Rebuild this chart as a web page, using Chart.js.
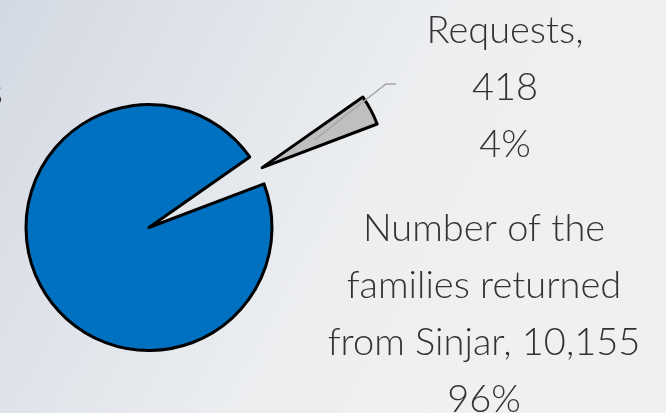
<!DOCTYPE html>
<html>
<head>
<meta charset="utf-8">
<script src="https://cdn.jsdelivr.net/npm/chart.js@4"></script>
<style>
  html, body { margin: 0; padding: 0; }
  body {
    width: 666px; height: 413px; overflow: hidden;
    background: linear-gradient(118deg, #d3d9e3 0%, #e1e4ea 28%, #eceef0 52%, #f0f0f0 75%, #f0f0f0 100%);
  }
  #wrap { position: relative; width: 666px; height: 413px; }
</style>
</head>
<body>
<div id="wrap"><canvas id="pie"></canvas></div>
<script>
// data
const categories  = ['Requests', 'Number of the families returned from Sinjar'];
const values      = [418, 10155];
const nameLines   = [['Requests,'], ['Number of the', 'families returned', 'from Sinjar,']];
const sliceColors = ['#bfbfbf', '#0070c0'];
const explode     = [128, 0];   // px the slice is pulled out

const FONT = '300 38px Lato, "Open Sans", sans-serif';
const TEXT_COLOR = '#333333';
const LINE_H = 57;

const total = values.reduce((a, b) => a + b, 0);
const fmt = v => v.toLocaleString('en-US');
const pct = v => Math.round(v / total * 100) + '%';

// label lines built from the data
const labelText = [
  [...nameLines[0], fmt(values[0]), pct(values[0])],
  [nameLines[1][0], nameLines[1][1], nameLines[1][2] + ' ' + fmt(values[1]), pct(values[1])]
];
const labelPos = [{ cx: 505, y: 43 }, { cx: 484, y: 241 }];

const explodePlugin = {
  id: 'explode',
  afterDatasetUpdate(chart, args) {
    args.meta.data.forEach((arc, i) => {
      const d = explode[i] || 0;
      if (!d) return;
      const mid = (arc.startAngle + arc.endAngle) / 2;
      arc.x += Math.cos(mid) * d;
      arc.y += Math.sin(mid) * d;
    });
  }
};

const labelsPlugin = {
  id: 'sliceLabels',
  afterDatasetsDraw(chart) {
    const c = chart.ctx;
    const arc = chart.getDatasetMeta(0).data[0];
    const mid = (arc.startAngle + arc.endAngle) / 2;
    const sx = arc.x + Math.cos(mid) * arc.outerRadius * 0.48;
    const sy = arc.y + Math.sin(mid) * arc.outerRadius * 0.48;
    // leader line for the small slice
    c.save();
    c.strokeStyle = '#a6a6a6';
    c.lineWidth = 1.5;
    c.beginPath();
    c.moveTo(sx, sy);
    c.lineTo(386, 84);
    c.lineTo(396, 84);
    c.stroke();

    c.font = FONT;
    c.fillStyle = TEXT_COLOR;
    c.textAlign = 'center';
    c.textBaseline = 'alphabetic';
    labelText.forEach((lines, i) => {
      lines.forEach((t, j) => c.fillText(t, labelPos[i].cx, labelPos[i].y + j * LINE_H));
    });
    // cut-off text at the left edge of the slide
    c.textAlign = 'right';
    c.fillText('s', 3, 105);
    c.restore();
  }
};

new Chart(document.getElementById('pie'), {
  type: 'pie',
  data: {
    labels: categories,
    datasets: [{
      data: values,
      backgroundColor: sliceColors,
      borderColor: '#000000',
      borderWidth: 3,
      borderJoinStyle: 'round'
    }]
  },
  options: {
    responsive: true,
    maintainAspectRatio: false,
    animation: false,
    rotation: 55,
    radius: 123,
    layout: { padding: { left: 0, right: 368, top: 42, bottom: 0 } },
    plugins: {
      legend: { display: false },
      tooltip: { enabled: false }
    }
  },
  plugins: [explodePlugin, labelsPlugin]
});
</script>
</body>
</html>
